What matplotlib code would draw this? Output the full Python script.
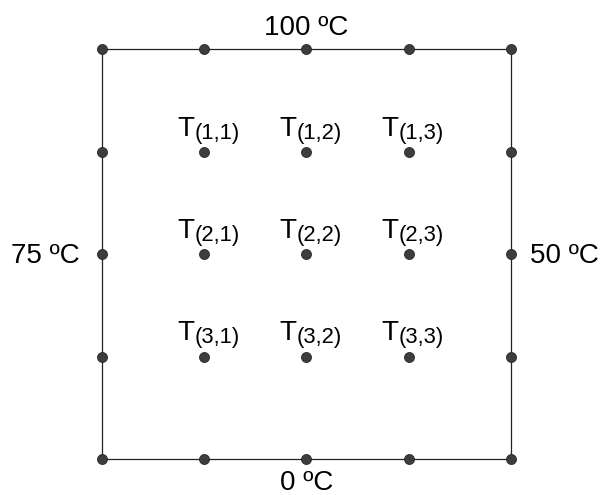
import matplotlib.pyplot as plt

# 5x5 grid of nodes, interior 3x3 unknowns
cols = [0, 1, 2, 3, 4]
rows = [0, 1, 2, 3, 4]
interior = [(1, 1), (1, 2), (1, 3), (2, 1), (2, 2), (2, 3), (3, 1), (3, 2), (3, 3)]
bc_top, bc_bottom, bc_left, bc_right = 100, 0, 75, 50

plt.rcParams['font.family'] = ['Liberation Sans', 'DejaVu Sans']

fig = plt.figure(figsize=(6.01, 4.95), dpi=100)
ax = fig.add_axes([102 / 601, 36 / 495, 409 / 601, 410 / 495])
ax.set_xlim(0, 4)
ax.set_ylim(0, 4)
ax.axis('off')

# plate outline
ax.plot([0, 4, 4, 0, 0], [0, 0, 4, 4, 0], color='#222222', lw=0.9,
        clip_on=False, zorder=1)

# boundary nodes
bx, by = [], []
for i in rows:
    for j in cols:
        if i in (0, 4) or j in (0, 4):
            bx.append(j)
            by.append(4 - i)
ax.plot(bx, by, 'o', color='#3d3d3d', ms=7.2, mec='#2a2a2a', mew=0.6,
        clip_on=False, zorder=3)

# interior nodes with labels
for (i, j) in interior:
    x, y = j, 4 - i
    ax.plot(x, y, 'o', color='#3d3d3d', ms=7.2, mec='#2a2a2a', mew=0.6,
            clip_on=False, zorder=3)
    ax.annotate('T', (x, y), xytext=(-27, 16), textcoords='offset pixels',
                fontsize=20, ha='left', va='baseline')
    ax.annotate('(%d,%d)' % (i, j), (x, y), xytext=(-10, 13),
                textcoords='offset pixels', fontsize=15.8, ha='left',
                va='baseline')

# boundary temperatures
ax.annotate('%d ºC' % bc_top, (2, 4), xytext=(0, 14), textcoords='offset pixels',
            fontsize=20, ha='center', va='baseline')
ax.annotate('%d ºC' % bc_bottom, (2, 0), xytext=(0, -31), textcoords='offset pixels',
            fontsize=20, ha='center', va='baseline')
ax.annotate('%d ºC' % bc_left, (0, 2), xytext=(-22, -9), textcoords='offset pixels',
            fontsize=20, ha='right', va='baseline')
ax.annotate('%d ºC' % bc_right, (4, 2), xytext=(19, -9), textcoords='offset pixels',
            fontsize=20, ha='left', va='baseline')

fig.savefig('out.png', dpi=100, facecolor='white')
